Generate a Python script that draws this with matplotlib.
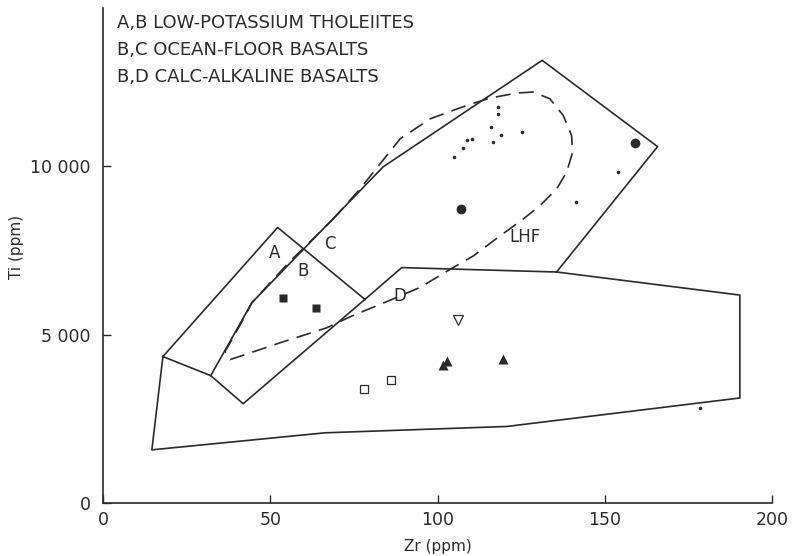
import matplotlib
matplotlib.use("Agg")
import matplotlib.pyplot as plt

# ---- data (Zr ppm, Ti ppm) ----
field_AB_zr = [17.9, 52.2, 78.3, 41.9, 32.2]
field_AB_ti = [4349, 8183, 6047, 2949, 3783]

field_C_zr = [32.2, 44.5, 83.7, 131.3, 165.8, 135.6]
field_C_ti = [3783, 5949, 9979, 13146, 10584, 6860]

field_D_zr = [17.9, 14.6, 66.4, 120.7, 190.4, 190.4, 135.6, 89.3, 78.3]
field_D_ti = [4349, 1579, 2085, 2273, 3119, 6175, 6860, 6991, 6047]

lhf_zr = [68.8, 76.8, 88.8, 97.8, 108.7, 115.7, 123.7, 128.6, 133.6, 137.6, 140.1, 140.4,
          138.6, 135.6, 130.6, 125.6, 118.7, 110.7, 104.7, 94.8, 84.3, 74.3, 66.9, 52.9,
          42.5, 38.0, 37.0, 36.5, 38.0, 41.9, 44.5, 55.9, 68.8]
lhf_ti = [8430, 9324, 10813, 11409, 11806, 12026, 12175, 12205, 12005, 11508, 10912, 10418,
          9822, 9324, 8827, 8431, 7933, 7337, 6992, 6405, 5958, 5550, 5204, 4757,
          4409, 4260, 4358, 4507, 4757, 5452, 5949, 7179, 8430]

small_dot_zr = [118.0, 118.0, 115.9, 119.0, 125.4, 116.7, 108.7, 110.4, 107.7, 104.9, 154.1, 141.3, 178.5]
small_dot_ti = [11758, 11559, 11162, 10942, 11031, 10733, 10775, 10805, 10537, 10278, 9840, 8946, 2830]

big_dot_zr = [159.0, 107.1]
big_dot_ti = [10695, 8720]

filled_sq_zr = [53.9, 63.7]
filled_sq_ti = [6077, 5779]

open_sq_zr = [78.1, 86.1]
open_sq_ti = [3387, 3643]

filled_tri_zr = [102.8, 101.7, 119.5]
filled_tri_ti = [4209, 4096, 4281]

open_invtri_zr = [106.2]
open_invtri_ti = [5422]

field_labels = ["A", "B", "C", "D", "LHF"]
field_label_zr = [51.2, 59.9, 67.7, 88.8, 126.2]
field_label_ti = [7439, 6891, 7686, 6146, 7885]

legend_lines = ["A,B LOW-POTASSIUM THOLEIITES",
                "B,C OCEAN-FLOOR BASALTS",
                "B,D CALC-ALKALINE BASALTS"]

x_ticks = [0, 50, 100, 150, 200]
y_ticks = [0, 5000, 10000]
y_tick_labels = ["0", "5 000", "10 000"]

# ---- figure ----
ink = "#2b2b2b"
plt.rcParams['font.family'] = ['DejaVu Sans']
fig = plt.figure(figsize=(7.92, 5.56), dpi=100)
ax = fig.add_axes([0.1301, 0.0953, 0.8446, 0.8903])
ax.set_xlim(0, 200)
ax.set_ylim(0, 14700)

lw = 1.2
ax.plot(field_AB_zr + field_AB_zr[:1], field_AB_ti + field_AB_ti[:1], color=ink, lw=lw)
ax.plot(field_C_zr, field_C_ti, color=ink, lw=lw)
ax.plot(field_D_zr, field_D_ti, color=ink, lw=lw)
ax.plot(lhf_zr, lhf_ti, color=ink, lw=lw, dashes=(9, 5))

ax.plot(small_dot_zr, small_dot_ti, 'o', color=ink, ms=2.6, mec='none')
ax.plot(big_dot_zr, big_dot_ti, 'o', color=ink, ms=7, mec='none')
ax.plot(filled_sq_zr, filled_sq_ti, 's', color=ink, ms=6, mec='none')
ax.plot(open_sq_zr, open_sq_ti, 's', mfc='white', mec=ink, mew=0.9, ms=6)
ax.plot(filled_tri_zr, filled_tri_ti, '^', color=ink, ms=6.5, mec='none')
ax.plot(open_invtri_zr, open_invtri_ti, 'v', mfc='white', mec=ink, mew=0.9, ms=7)

for t, x, y in zip(field_labels, field_label_zr, field_label_ti):
    ax.text(x, y, t, ha='center', va='center', fontsize=12, color=ink)

for i, line in enumerate(legend_lines):
    fig.text(117 / 792, 1 - (23 + 27 * i) / 556, line, ha='left', va='center',
             fontsize=13, color=ink)

for s in ['top', 'right']:
    ax.spines[s].set_visible(False)
for s in ['left', 'bottom']:
    ax.spines[s].set_color(ink)
    ax.spines[s].set_linewidth(1.2)

ax.set_xticks(x_ticks)
ax.set_yticks(y_ticks)
ax.set_yticklabels(y_tick_labels)
ax.tick_params(direction='in', length=6, width=1, colors=ink, labelsize=12.5, pad=6)
ax.tick_params(axis='y', pad=9)

ax.set_xlabel("Zr (ppm)", fontsize=11, color=ink, labelpad=7)
ax.set_ylabel("Ti (ppm)", fontsize=11, color=ink)
ax.yaxis.set_label_coords(-0.118, 0.517)

fig.savefig("out.png", dpi=100)
